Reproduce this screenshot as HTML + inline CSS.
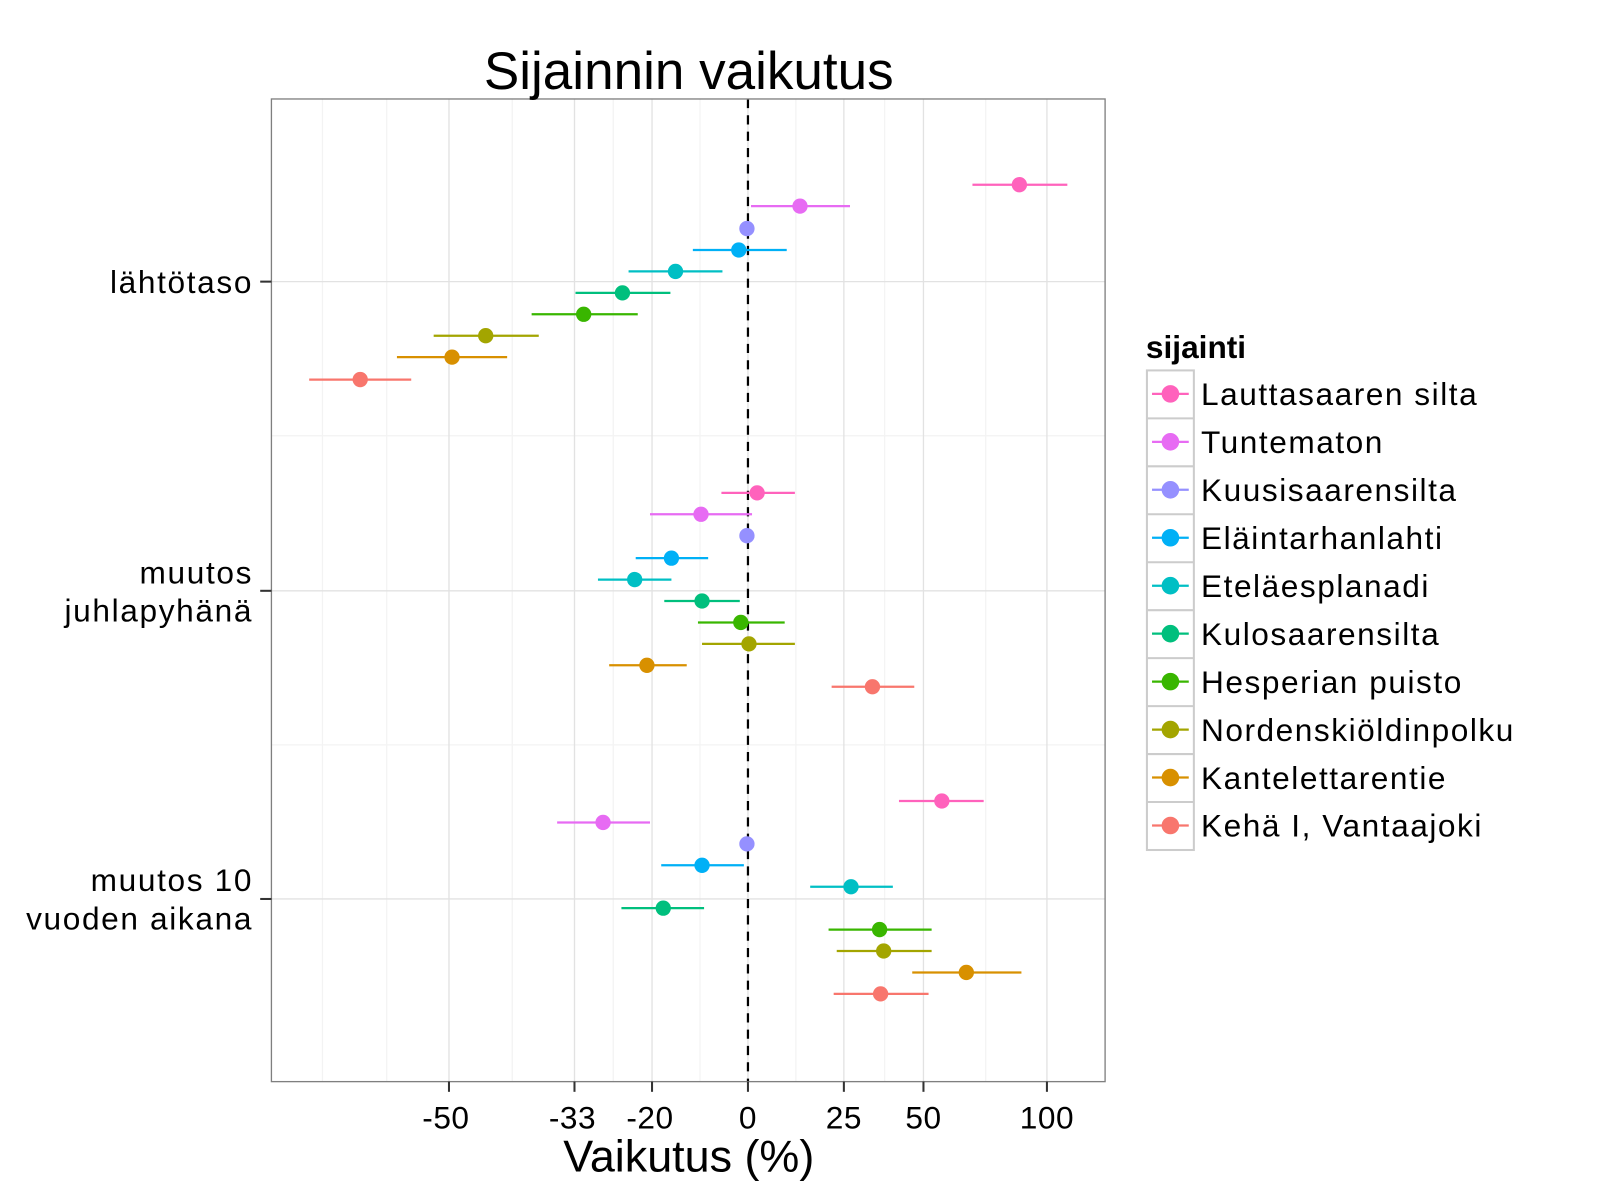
<!DOCTYPE html>
<html><head><meta charset="utf-8"><style>body{margin:0;background:#fff}svg{display:block}text{font-family:"Liberation Sans",Arial,sans-serif}</style></head><body>
<svg width="1600" height="1200" viewBox="0 0 1600 1200" xmlns="http://www.w3.org/2000/svg">
<rect width="1600" height="1200" fill="#fff"/>
<g transform="scale(1.0204)">
<g stroke="#f3f3f3" stroke-width="1.2">
<line x1="316" y1="97" x2="316" y2="1060"/><line x1="379" y1="97" x2="379" y2="1060"/>
<line x1="502" y1="97" x2="502" y2="1060"/><line x1="601" y1="97" x2="601" y2="1060"/>
<line x1="686" y1="97" x2="686" y2="1060"/><line x1="780" y1="97" x2="780" y2="1060"/>
<line x1="867" y1="97" x2="867" y2="1060"/><line x1="966" y1="97" x2="966" y2="1060"/>
<line x1="266" y1="427" x2="1083" y2="427"/><line x1="266" y1="730" x2="1083" y2="730"/>
</g>
<g stroke="#e2e2e2" stroke-width="1.3">
<line x1="440" y1="97" x2="440" y2="1060"/><line x1="563" y1="97" x2="563" y2="1060"/>
<line x1="639" y1="97" x2="639" y2="1060"/><line x1="733" y1="97" x2="733" y2="1060"/>
<line x1="827" y1="97" x2="827" y2="1060"/><line x1="905" y1="97" x2="905" y2="1060"/>
<line x1="1026" y1="97" x2="1026" y2="1060"/>
<line x1="266" y1="276" x2="1083" y2="276"/><line x1="266" y1="579" x2="1083" y2="579"/><line x1="266" y1="881" x2="1083" y2="881"/>
</g>
<line x1="733" y1="97" x2="733" y2="1060" stroke="#000" stroke-width="2.2" stroke-dasharray="9,7"/>
<g stroke-width="2.2">
<g stroke="#FF62BC" fill="#FF62BC"><line x1="953" y1="181" x2="1046" y2="181"/><circle cx="999" cy="181" r="7.5" stroke="none"/>
<line x1="707" y1="483" x2="779" y2="483"/><circle cx="742" cy="483" r="7.5" stroke="none"/>
<line x1="881" y1="785" x2="964" y2="785"/><circle cx="923" cy="785" r="7.5" stroke="none"/></g>
<g stroke="#E76BF3" fill="#E76BF3"><line x1="736" y1="202" x2="833" y2="202"/><circle cx="784" cy="202" r="7.5" stroke="none"/>
<line x1="637" y1="504" x2="737" y2="504"/><circle cx="687" cy="504" r="7.5" stroke="none"/>
<line x1="546" y1="806" x2="637" y2="806"/><circle cx="591" cy="806" r="7.5" stroke="none"/></g>
<g fill="#9590FF"><circle cx="732" cy="224" r="7.5"/><circle cx="732" cy="525" r="7.5"/><circle cx="732" cy="827" r="7.5"/></g>
<g stroke="#00B0F6" fill="#00B0F6"><line x1="679" y1="245" x2="771" y2="245"/><circle cx="724" cy="245" r="7.5" stroke="none"/>
<line x1="623" y1="547" x2="694" y2="547"/><circle cx="658" cy="547" r="7.5" stroke="none"/>
<line x1="648" y1="848" x2="729" y2="848"/><circle cx="688" cy="848" r="7.5" stroke="none"/></g>
<g stroke="#00BFC4" fill="#00BFC4"><line x1="616" y1="266" x2="708" y2="266"/><circle cx="662" cy="266" r="7.5" stroke="none"/>
<line x1="586" y1="568" x2="658" y2="568"/><circle cx="622" cy="568" r="7.5" stroke="none"/>
<line x1="794" y1="869" x2="875" y2="869"/><circle cx="834" cy="869" r="7.5" stroke="none"/></g>
<g stroke="#00BF7D" fill="#00BF7D"><line x1="564" y1="287" x2="657" y2="287"/><circle cx="610" cy="287" r="7.5" stroke="none"/>
<line x1="651" y1="589" x2="725" y2="589"/><circle cx="688" cy="589" r="7.5" stroke="none"/>
<line x1="609" y1="890" x2="690" y2="890"/><circle cx="650" cy="890" r="7.5" stroke="none"/></g>
<g stroke="#39B600" fill="#39B600"><line x1="521" y1="308" x2="625" y2="308"/><circle cx="572" cy="308" r="7.5" stroke="none"/>
<line x1="684" y1="610" x2="769" y2="610"/><circle cx="726" cy="610" r="7.5" stroke="none"/>
<line x1="812" y1="911" x2="913" y2="911"/><circle cx="862" cy="911" r="7.5" stroke="none"/></g>
<g stroke="#A3A500" fill="#A3A500"><line x1="425" y1="329" x2="528" y2="329"/><circle cx="476" cy="329" r="7.5" stroke="none"/>
<line x1="688" y1="631" x2="779" y2="631"/><circle cx="734" cy="631" r="7.5" stroke="none"/>
<line x1="820" y1="932" x2="913" y2="932"/><circle cx="866" cy="932" r="7.5" stroke="none"/></g>
<g stroke="#D89000" fill="#D89000"><line x1="389" y1="350" x2="497" y2="350"/><circle cx="443" cy="350" r="7.5" stroke="none"/>
<line x1="597" y1="652" x2="673" y2="652"/><circle cx="634" cy="652" r="7.5" stroke="none"/>
<line x1="894" y1="953" x2="1001" y2="953"/><circle cx="947" cy="953" r="7.5" stroke="none"/></g>
<g stroke="#F8766D" fill="#F8766D"><line x1="303" y1="372" x2="403" y2="372"/><circle cx="353" cy="372" r="7.5" stroke="none"/>
<line x1="815" y1="673" x2="896" y2="673"/><circle cx="855" cy="673" r="7.5" stroke="none"/>
<line x1="817" y1="974" x2="910" y2="974"/><circle cx="863" cy="974" r="7.5" stroke="none"/></g>
</g>
<rect x="266" y="97" width="817" height="963" fill="none" stroke="#7f7f7f" stroke-width="1.3"/>
<g stroke="#333" stroke-width="2">
<line x1="255" y1="276" x2="266" y2="276"/><line x1="255" y1="579" x2="266" y2="579"/><line x1="255" y1="881" x2="266" y2="881"/>
<line x1="440" y1="1060" x2="440" y2="1070"/><line x1="563" y1="1060" x2="563" y2="1070"/><line x1="639" y1="1060" x2="639" y2="1070"/>
<line x1="733" y1="1060" x2="733" y2="1070"/><line x1="827" y1="1060" x2="827" y2="1070"/><line x1="905" y1="1060" x2="905" y2="1070"/><line x1="1026" y1="1060" x2="1026" y2="1070"/>
</g>
<g font-size="31" fill="#000" text-anchor="end" letter-spacing="1.6">
<text x="248" y="287">lähtötaso</text>
<text x="248" y="572">muutos</text><text x="248" y="609">juhlapyhänä</text>
<text x="248" y="873">muutos 10</text><text x="248" y="911">vuoden aikana</text>
</g>
<g font-size="31" fill="#000" text-anchor="middle" letter-spacing="0.5">
<text x="437" y="1106">-50</text><text x="561" y="1106">-33</text><text x="637" y="1106">-20</text>
<text x="733" y="1106">0</text><text x="827" y="1106">25</text><text x="905" y="1106">50</text><text x="1026" y="1106">100</text>
</g>
<g fill="#000" text-anchor="middle">
<text x="675" y="1148" font-size="44">Vaikutus (%)</text>
<text x="675" y="87" font-size="52">Sijainnin vaikutus</text>
</g>
<text x="1123" y="351" font-size="31" font-weight="bold">sijainti</text>
<g stroke="#ccc" stroke-width="2" fill="none">
<rect x="1124" y="363" width="46" height="470"/>
<line x1="1124" y1="410" x2="1170" y2="410"/><line x1="1124" y1="457" x2="1170" y2="457"/><line x1="1124" y1="504" x2="1170" y2="504"/>
<line x1="1124" y1="551" x2="1170" y2="551"/><line x1="1124" y1="598" x2="1170" y2="598"/><line x1="1124" y1="645" x2="1170" y2="645"/>
<line x1="1124" y1="692" x2="1170" y2="692"/><line x1="1124" y1="739" x2="1170" y2="739"/><line x1="1124" y1="786" x2="1170" y2="786"/>
</g>
<g stroke-width="2.2">
<g stroke="#FF62BC" fill="#FF62BC"><line x1="1129" y1="386" x2="1165" y2="386"/><circle cx="1147" cy="386" r="7.5"/></g>
<g stroke="#E76BF3" fill="#E76BF3"><line x1="1129" y1="433" x2="1165" y2="433"/><circle cx="1147" cy="433" r="7.5"/></g>
<g stroke="#9590FF" fill="#9590FF"><line x1="1129" y1="480" x2="1165" y2="480"/><circle cx="1147" cy="480" r="7.5"/></g>
<g stroke="#00B0F6" fill="#00B0F6"><line x1="1129" y1="527" x2="1165" y2="527"/><circle cx="1147" cy="527" r="7.5"/></g>
<g stroke="#00BFC4" fill="#00BFC4"><line x1="1129" y1="574" x2="1165" y2="574"/><circle cx="1147" cy="574" r="7.5"/></g>
<g stroke="#00BF7D" fill="#00BF7D"><line x1="1129" y1="621" x2="1165" y2="621"/><circle cx="1147" cy="621" r="7.5"/></g>
<g stroke="#39B600" fill="#39B600"><line x1="1129" y1="668" x2="1165" y2="668"/><circle cx="1147" cy="668" r="7.5"/></g>
<g stroke="#A3A500" fill="#A3A500"><line x1="1129" y1="715" x2="1165" y2="715"/><circle cx="1147" cy="715" r="7.5"/></g>
<g stroke="#D89000" fill="#D89000"><line x1="1129" y1="762" x2="1165" y2="762"/><circle cx="1147" cy="762" r="7.5"/></g>
<g stroke="#F8766D" fill="#F8766D"><line x1="1129" y1="809" x2="1165" y2="809"/><circle cx="1147" cy="809" r="7.5"/></g>
</g>
<g font-size="31" fill="#000" letter-spacing="1.5">
<text x="1177" y="397">Lauttasaaren silta</text><text x="1177" y="444">Tuntematon</text>
<text x="1177" y="491">Kuusisaarensilta</text><text x="1177" y="538">Eläintarhanlahti</text>
<text x="1177" y="585">Eteläesplanadi</text><text x="1177" y="632">Kulosaarensilta</text>
<text x="1177" y="679">Hesperian puisto</text><text x="1177" y="726">Nordenskiöldinpolku</text>
<text x="1177" y="773">Kantelettarentie</text><text x="1177" y="820">Kehä I, Vantaajoki</text>
</g>
</g>
</svg>
</body></html>
